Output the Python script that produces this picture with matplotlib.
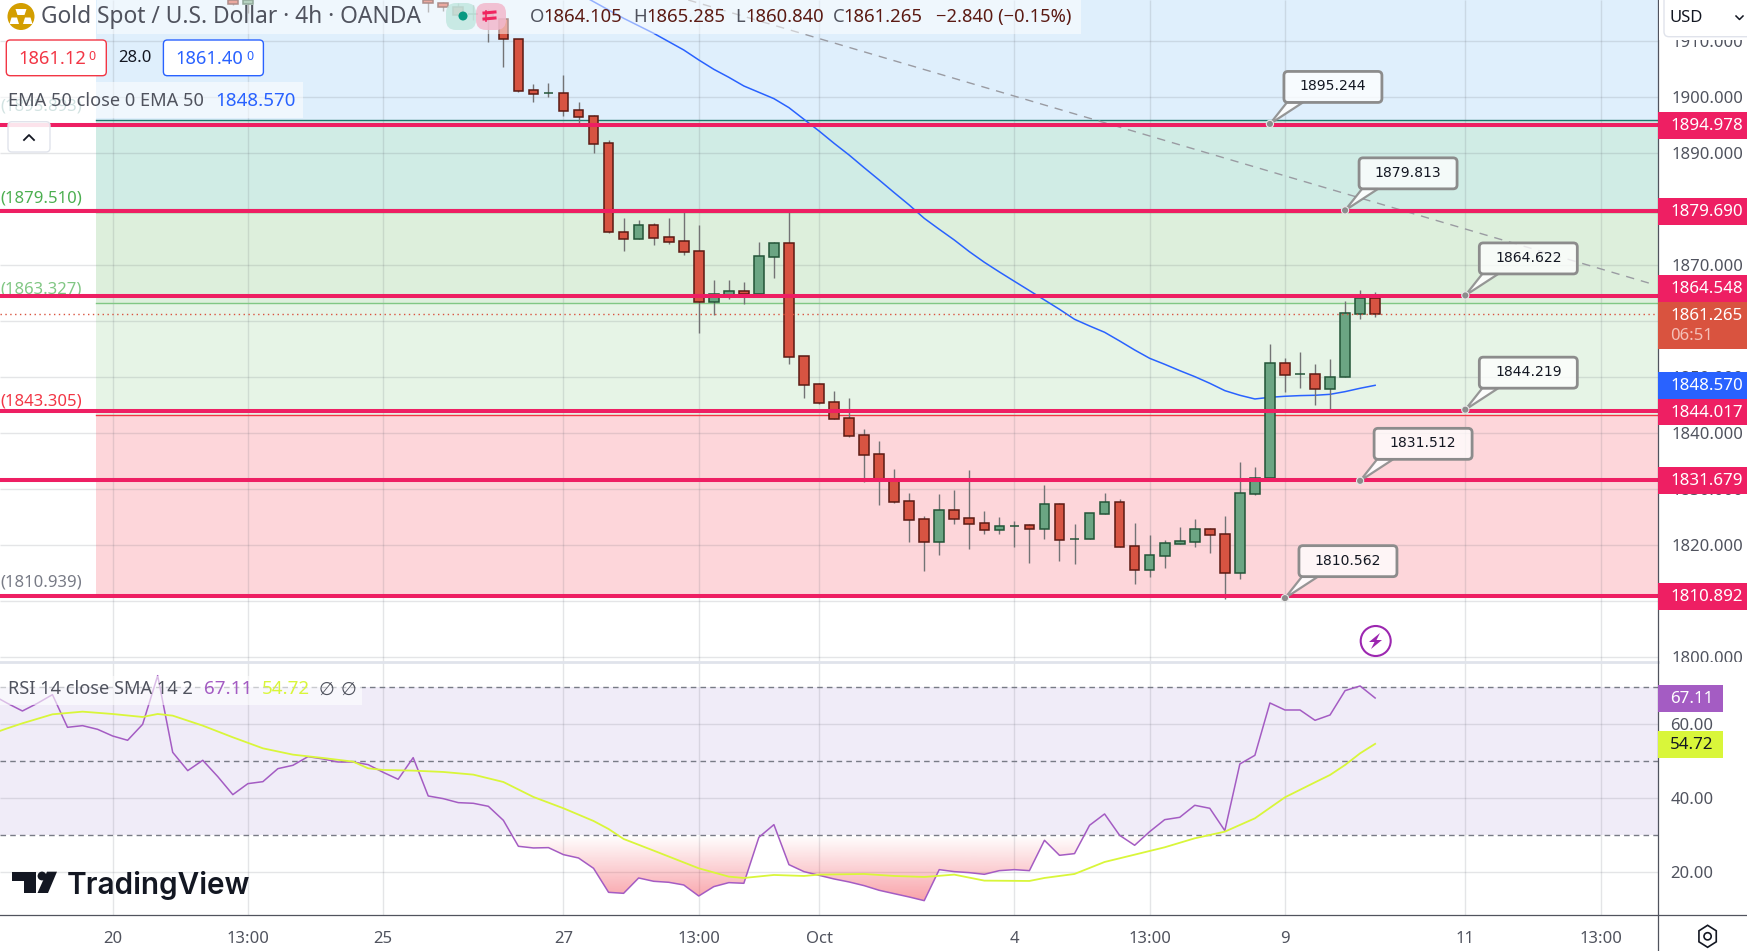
import numpy as np
import matplotlib
matplotlib.use("Agg")
import matplotlib.pyplot as plt
from matplotlib.patches import Rectangle, FancyBboxPatch, Polygon, Circle, PathPatch
from matplotlib.path import Path
from matplotlib.colors import to_rgb

W, H = 1747, 951
plt.rcParams['font.family'] = ['Noto Sans', 'DejaVu Sans']

# candles, bar 0 sits at x=458 in the picture
bar_idx = [-15, -14, -2, -1] + list(range(0, 62))
opens = [1917.4, 1916.7, 1917.4, 1916.79, 1916.07, 1914.8, 1915.1, 1913.93, 1910.36, 1901.25, 1900.71, 1900.71, 1897.68, 1896.61,
         1891.79, 1875.89, 1874.76, 1877.14, 1875.0, 1874.29, 1872.5, 1863.51, 1864.76, 1865.36, 1864.94, 1871.55, 1873.93, 1853.75,
         1848.75, 1845.54, 1842.68, 1839.64, 1836.25, 1831.61, 1827.86, 1824.64, 1820.65, 1826.25, 1824.82, 1823.93, 1822.8, 1823.51,
         1823.57, 1822.98, 1827.32, 1821.19, 1821.19, 1825.65, 1827.68, 1819.82, 1815.65, 1818.15, 1820.30, 1820.65, 1822.86, 1821.96,
         1815.12, 1829.23, 1831.96, 1852.5, 1850.54, 1850.54, 1847.98, 1850.0, 1861.37, 1864.105]
highs = [1917.5, 1917.5, 1917.5, 1917.0, 1916.8, 1916.5, 1915.7, 1914.0, 1910.4, 1902.38, 1902.5, 1903.99, 1899.17, 1896.85,
         1892.32, 1878.39, 1878.10, 1877.5, 1878.39, 1879.76, 1877.2, 1867.38, 1867.38, 1867.02, 1874.17, 1874.11, 1879.88, 1853.8,
         1848.93, 1847.56, 1846.31, 1840.71, 1838.63, 1833.63, 1829.35, 1825.24, 1829.17, 1829.88, 1833.45, 1826.13, 1825.06, 1824.35,
         1823.81, 1830.77, 1827.56, 1823.81, 1825.71, 1829.35, 1828.27, 1823.99, 1821.85, 1820.95, 1823.27, 1824.70, 1823.1, 1825.24,
         1834.88, 1833.99, 1855.95, 1853.39, 1854.52, 1852.38, 1853.27, 1863.63, 1865.6, 1865.285]
lows = [1916.5, 1915.0, 1915.24, 1915.48, 1914.6, 1913.8, 1909.94, 1905.48, 1900.95, 1899.23, 1900.0, 1896.73, 1895.36, 1890.12,
        1875.71, 1872.62, 1874.76, 1873.63, 1873.87, 1871.85, 1857.86, 1861.13, 1864.05, 1863.15, 1864.58, 1867.80, 1852.44, 1846.37,
        1845.30, 1842.5, 1839.40, 1831.37, 1827.2, 1827.62, 1820.60, 1815.42, 1818.27, 1823.81, 1819.35, 1822.02, 1822.02, 1819.70,
        1816.85, 1821.13, 1817.2, 1816.67, 1821.19, 1825.65, 1819.76, 1813.10, 1814.35, 1815.95, 1820.30, 1819.70, 1818.63, 1810.42,
        1813.99, 1828.99, 1831.96, 1847.44, 1848.15, 1845.06, 1844.29, 1850.0, 1860.42, 1860.84]
closes = [1916.67, 1917.4, 1916.79, 1916.07, 1914.76, 1914.8, 1913.93, 1910.36, 1901.19, 1900.65, 1900.71, 1897.62, 1896.55, 1891.73,
          1875.89, 1874.76, 1877.14, 1874.94, 1874.23, 1872.44, 1863.51, 1864.82, 1865.36, 1864.94, 1871.61, 1873.93, 1853.69, 1848.69,
          1845.48, 1842.62, 1839.58, 1836.19, 1831.55, 1827.80, 1824.58, 1820.65, 1826.25, 1824.76, 1823.87, 1822.80, 1823.39, 1823.51,
          1822.98, 1827.32, 1821.01, 1821.19, 1825.71, 1827.68, 1819.76, 1815.65, 1818.21, 1820.36, 1820.71, 1822.86, 1821.90, 1815.12,
          1829.29, 1831.96, 1852.5, 1850.48, 1850.54, 1847.98, 1850.0, 1861.43, 1864.1, 1861.265]

ema_idx = [8, 9, 11, 13, 15, 16, 17, 18, 19, 21, 22, 23, 24, 25, 26, 27, 28, 29, 30, 31, 32, 33, 34, 35, 36, 37, 38, 39, 40, 41,
           42, 43, 44, 45, 46, 47, 48, 49, 50, 51, 52, 53, 54, 55, 56, 57, 58, 59, 60, 61]
ema_vals = [1918.57, 1917.08, 1914.11, 1911.43, 1908.45, 1906.67, 1905.0, 1903.57, 1902.02, 1899.76, 1898.15, 1896.07, 1893.99,
            1891.79, 1889.70, 1887.44, 1885.24, 1882.98, 1880.77, 1878.39, 1876.43, 1874.52, 1872.44, 1870.54, 1868.81, 1867.14,
            1865.48, 1863.81, 1862.14, 1860.36, 1859.17, 1858.04, 1856.49, 1854.88, 1853.39, 1852.32, 1851.19, 1850.12, 1848.93,
            1847.62, 1846.79, 1846.13, 1846.43, 1846.61, 1846.73, 1846.79, 1846.96, 1847.44, 1848.04, 1848.57]

rsi_idx = list(range(-31, 62))
rsi_vals = [67.93, 65.68, 63.60, 65.68, 68.02, 59.19, 59.64, 58.65, 56.85, 55.68, 60.0, 73.15, 52.43, 47.48, 50.27, 45.86, 40.99, 43.96,
            44.50, 48.02, 48.92, 51.26, 50.63, 49.82, 49.82, 49.10, 47.03, 45.14, 50.99, 40.63, 39.91, 38.83, 38.65, 37.84, 34.05,
            27.03, 26.58, 26.67, 24.77, 23.87, 21.08, 14.59, 14.32, 18.47, 17.57, 17.30, 16.58, 13.60, 16.13, 17.21, 17.03, 29.46,
            32.88, 22.07, 20.18, 19.19, 18.20, 17.39, 16.40, 15.14, 14.23, 13.33, 12.34, 20.72, 20.18, 19.91, 19.46, 20.45, 20.72,
            20.45, 28.65, 24.59, 25.05, 32.70, 35.77, 30.0, 27.30, 30.99, 34.23, 34.86, 38.11, 37.30, 31.26, 49.28, 51.62, 65.77,
            63.87, 63.87, 61.08, 62.52, 69.10, 70.36, 67.11]

sma_idx = [-31, -30, -29, -27, -25, -23, -21, -20, -19, -17, -15, -13, -11, -9, -7, -6, -5, -3, -1, 1, 3, 5, 7, 9, 10, 11, 13, 16, 18, 19,
           21, 23, 24, 27, 29, 31, 33, 35, 38, 39, 41, 43, 45, 47, 49, 51, 53, 55, 57, 58, 59, 60, 61]
sma_vals = [57.48, 58.92, 60.27, 62.70, 63.42, 62.79, 61.98, 62.79, 62.34, 59.64, 56.49, 53.51, 51.80, 50.90, 49.91, 48.11, 47.66, 47.48,
            47.12, 46.40, 44.41, 40.36, 37.30, 33.87, 31.71, 29.01, 25.86, 21.08, 18.83, 18.47, 19.28, 19.01, 19.37, 19.55, 19.01,
            18.74, 19.37, 17.75, 17.66, 18.47, 19.55, 22.79, 24.77, 26.76, 29.19, 30.99, 34.59, 40.27, 44.32, 46.31, 49.01, 52.16,
            54.72]

# drawn levels and the fib levels
levels = [1894.978, 1879.690, 1864.548, 1844.017, 1831.679, 1810.892]
fib_levels = [1895.893, 1879.510, 1863.327, 1843.305, 1810.939]
fib_colors = ['#22766f', '#4caf50', '#81c784', '#f23645', '#787b86']
callout_vals = [1895.244, 1879.813, 1864.622, 1844.219, 1831.512, 1810.562]
callout_idx = [54, 59, 67, 67, 60, 55]
trend_idx = [15.3, 79.5]
trend_vals = [1917.375, 1866.6]

time_ticks = [-23, -14, -5, 7, 16, 24, 37, 46, 55, 67, 76]
time_labels = ['20', '13:00', '25', '27', '13:00', 'Oct', '4', '13:00', '9', '11', '13:00']
price_ticks = [1910, 1900, 1890, 1880, 1870, 1860, 1850, 1840, 1830, 1820, 1810, 1800]
covered_ticks = [1880, 1860, 1810]  # sit fully under a level label
rsi_ticks = [60, 40, 20]

last_price = 1861.265
ema_last = 1848.570

TXT = '#50535e'
PINK = '#ee1f63'
UP, DOWN = '#6ba583', '#d75442'
UP_E, DOWN_E = '#225437', '#5b1a13'

xlim = (-30.49, 79.82)

fig = plt.figure(figsize=(W / 100, H / 100), dpi=100, facecolor='white')
ax = fig.add_axes([0, 1 - 662 / H, 1658 / W, 662 / H], zorder=0)
ax_rsi = fig.add_axes([0, 1 - 915 / H, 1658 / W, (915 - 662) / H], zorder=2)
ov = fig.add_axes([0, 0, 1, 1], zorder=3)
ov.set_xlim(0, W)
ov.set_ylim(H, 0)
ov.axis('off')

# main pane
ax.set_xlim(*xlim)
ax.set_ylim(1799.16, 1917.375)
ax.set_xticks(time_ticks)
ax.tick_params(axis='x', length=0, labelbottom=False)
ax.yaxis.tick_right()
ax.set_yticks(price_ticks)
ax.set_yticklabels(['' if p in covered_ticks else '%.3f' % p for p in price_ticks])
ax.tick_params(axis='y', length=0, pad=9.5, labelsize=12, labelcolor=TXT)
for s in ax.spines.values():
    s.set_visible(False)

# fib zones
fib_x = [-24.08, xlim[1]]
zones = [(fib_levels[0], 1917.375, '#dfeffc'), (fib_levels[1], fib_levels[0], '#d0ece5'), (fib_levels[2], fib_levels[1], '#ddefdc'),
         (fib_levels[3], fib_levels[2], '#e6f4e6'), (fib_levels[4], fib_levels[3], '#fdd6da')]
for lo, hi, col in zones:
    ax.fill_between(fib_x, lo, hi, color=col, lw=0, zorder=1)
for lev, col in zip(fib_levels, fib_colors):
    ax.plot(fib_x, [lev, lev], color=col, lw=1, zorder=2.2)
    ax.annotate('(%.3f)' % lev, (xlim[0], lev), xytext=(0, 9.8), textcoords='offset points', color=col,
                alpha=0.45 if lev == fib_levels[0] else 1, fontsize=12, va='center', ha='left', zorder=2.2)

ax.hlines(price_ticks, *xlim, color='#5d606b', alpha=0.16, lw=1, zorder=2)
ax.vlines(time_ticks, 1799.16, 1917.375, color='#5d606b', alpha=0.16, lw=1, zorder=2)

ax.plot(trend_idx, trend_vals, color='#9a9ba2', lw=1, dashes=(6, 5), zorder=2.5)
ax.plot(ema_idx, ema_vals, color='#2962ff', lw=1.1, zorder=2.6)

# candles
for i, o, h, l, c in zip(bar_idx, opens, highs, lows, closes):
    up = c >= o
    ax.vlines(i, l, h, color='#737375', lw=1, zorder=3)
    ax.bar(i, abs(c - o), bottom=min(o, c), width=0.64, color=UP if up else DOWN,
           edgecolor=UP_E if up else DOWN_E, lw=1.1, zorder=3.1)

ax.hlines(last_price, *xlim, color='#d9533f', lw=1, linestyles=(0, (1, 2.5)), zorder=3.2)
ax.hlines(levels, *xlim, color=PINK, lw=2.9, zorder=4)

# white block so the price scale stops at the rsi pane
fig.add_artist(Rectangle((1658 / W, 0), 89 / W, 1 - 662 / H, transform=fig.transFigure, fc='white', ec='none', zorder=1))

# rsi pane
ax_rsi.set_xlim(*xlim)
ax_rsi.set_ylim(8.46, 76.84)
for s in ax_rsi.spines.values():
    s.set_visible(False)
ax_rsi.axhspan(30, 70, color='#f0ecf8', lw=0, zorder=1)
ax_rsi.hlines(rsi_ticks, *xlim, color='#5d606b', alpha=0.16, lw=1, zorder=2)
ax_rsi.vlines(time_ticks, 8.46, 76.84, color='#5d606b', alpha=0.16, lw=1, zorder=2)
ax_rsi.hlines([70, 50, 30], *xlim, color='#787b86', lw=1, linestyles=(0, (4, 3)), zorder=2.1)
ax_rsi.spines['top'].set_visible(True)
ax_rsi.spines['top'].set_color('#e0e3eb')
ax_rsi.spines['top'].set_linewidth(2)

rsi_arr = np.array(rsi_vals)
poly = ax_rsi.fill_between(rsi_idx, rsi_arr, 30, where=rsi_arr < 30, interpolate=True, color='none', lw=0)
grad = np.ones((256, 1, 4))
grad[:, 0, :3] = to_rgb('#f23645')
grad[:, 0, 3] = np.linspace(0.52, 0, 256)  # row 0 is the bottom of the gradient
im = ax_rsi.imshow(grad, extent=(xlim[0], xlim[1], 10, 30), aspect='auto', origin='lower', zorder=2.3)
im.set_clip_path(PathPatch(Path.make_compound_path(*poly.get_paths()), transform=ax_rsi.transData))
ax_rsi.set_xlim(*xlim)
ax_rsi.set_ylim(8.46, 76.84)

ax_rsi.plot(rsi_idx, rsi_vals, color='#a45cc3', lw=1.1, zorder=3)
ax_rsi.plot(sma_idx, sma_vals, color='#d9f63a', lw=1.3, zorder=3.1)

ax_rsi.yaxis.tick_right()
ax_rsi.set_yticks(rsi_ticks)
ax_rsi.set_yticklabels(['%.2f' % v for v in rsi_ticks])
ax_rsi.tick_params(axis='y', length=0, pad=9, labelsize=12, labelcolor=TXT)
ax_rsi.set_xticks(time_ticks)
ax_rsi.set_xticklabels(time_labels)
ax_rsi.tick_params(axis='x', length=0, pad=11.5, labelsize=12, labelcolor=TXT)

# axis borders
ov.plot([1658, 1658], [0, H], color=TXT, lw=0.9, zorder=1)
ov.plot([0, W], [915, 915], color=TXT, lw=0.9, zorder=1)


def label(y0, y1, text, bg, fg='white', x1=W, size=12.2, weight='bold'):
    ov.add_patch(Rectangle((1658, y0), x1 - 1658, y1 - y0, fc=bg, ec='none', zorder=5))
    ov.text(1670, (y0 + y1) / 2 + 0.8, text, color=fg, fontsize=size, fontweight=weight, va='center', ha='left', zorder=6)


def to_px(i, p):
    x, y = ax.transData.transform((i, p))
    return x, H - y


# level labels on the price scale (the picture shifts two of them to avoid overlap)
level_pos = [(112, 139), (198, 225), (275, 301.5), (399.3, 425.5), (466.7, 494), (583, 610)]
for lev, (y0, y1) in zip(levels, level_pos):
    label(y0, y1, '%.3f' % lev, PINK)
label(301.5, 349, '', '#d9533f')
ov.text(1670, 315.5, '%.3f' % last_price, color='white', fontsize=12.2, fontweight='bold', va='center', zorder=6)
ov.text(1670, 336, '06:51', color='#f4c0b8', fontsize=12, va='center', zorder=6)
label(371.7, 399.3, '%.3f' % ema_last, '#2962ff')
label(685, 711.7, '%.2f' % rsi_vals[-1], '#a45cc3', x1=1723)
label(731, 757.7, '%.2f' % sma_vals[-1], '#d9f63a', fg='#131722', x1=1723)

# callouts
for val, idx in zip(callout_vals, callout_idx):
    x, y = to_px(idx, val)
    bx, by = x + 14, y - 52.5
    ov.add_patch(Polygon([(x, y), (bx + 3, by + 31), (bx + 19, by + 31)], closed=True, fc='#ffffff', ec='#8c8c8c', lw=1.6, alpha=0.9, zorder=4))
    ov.add_patch(FancyBboxPatch((bx, by), 98, 31, boxstyle='round,pad=0,rounding_size=4', fc=(1, 1, 1, 0.78), ec='#8c8c8c', lw=2, zorder=4.1))
    ov.add_patch(Circle((x, y), 3.6, fc='#8c8c8c', ec='#e8e8e8', lw=0.8, zorder=4.2))
    ov.text(bx + 49, by + 15, '%.3f' % val, family='DejaVu Sans', fontsize=10.1, color='#131722', va='center', ha='center', zorder=4.3)

# header
ov.add_patch(Rectangle((97, 0), 984, 34, fc=(1, 1, 1, 0.5), ec='none', zorder=2))
ov.add_patch(Circle((21, 16.5), 13.5, fc='#d39e00', ec='none', zorder=3))
ov.add_patch(Polygon([(17.5, 15), (24.5, 15), (26.5, 9), (15.5, 9)][::-1], fc='white', ec='none', zorder=3.1))
ov.add_patch(Polygon([(9.5, 24), (19, 24), (17, 17.5), (11.5, 17.5)], fc='white', ec='none', zorder=3.1))
ov.add_patch(Polygon([(23, 24), (32.5, 24), (30.5, 17.5), (25, 17.5)], fc='white', ec='none', zorder=3.1))
ov.text(41, 17, 'Gold Spot / U.S. Dollar · 4h · OANDA', fontsize=16.4, color=TXT, va='center', zorder=3)

ov.add_patch(FancyBboxPatch((446, 3), 30, 27, boxstyle='round,pad=0,rounding_size=10', fc=(0.75, 0.9, 0.87, 0.8), ec='none', zorder=3))
ov.add_patch(FancyBboxPatch((476, 3), 30, 27, boxstyle='round,pad=0,rounding_size=10', fc=(0.95, 0.72, 0.8, 0.85), ec='none', zorder=3))
ov.add_patch(Circle((463, 16), 4.5, fc='#089981', ec='none', zorder=3.2))
ov.plot([484, 495], [13, 12], color='#f0245f', lw=2.2, zorder=3.2)
ov.plot([484, 495], [19, 18], color='#f0245f', lw=2.2, zorder=3.2)
ov.plot([486, 486], [11, 21], color='#f0245f', lw=1.2, zorder=3.2)

ohlc = [(530, 'O', '1864.105'), (633, 'H', '1865.285'), (735, 'L', '1860.840'), (833, 'C', '1861.265')]
for x, k, v in ohlc:
    ov.text(x, 17, k, fontsize=13.3, color=TXT, va='center', zorder=3)
    off = 13 if k in ('O', 'H') else 10.5
    ov.text(x + off, 17, v, fontsize=13.3, color=DOWN_E, va='center', zorder=3)
ov.text(936, 17, '−2.840 (−0.15%)', fontsize=13.2, color=DOWN_E, va='center', zorder=3)

# bid / ask
for x0, col, main in [(6.3, '#f23645', '1861.12'), (163.4, '#2962ff', '1861.40')]:
    ov.add_patch(FancyBboxPatch((x0, 40), 100, 35.7, boxstyle='round,pad=0,rounding_size=4', fc='white', ec=col, lw=1, zorder=3))
    ov.text(x0 + 12, 58.5, main, color=col, fontsize=13.2, va='center', zorder=3.1)
    ov.text(x0 + 82.5, 56, '0', color=col, fontsize=9, va='center', zorder=3.1)
ov.text(135, 58.5, '28.0', color='#131722', fontsize=12, va='center', ha='center', zorder=3)

# indicator legends
ov.add_patch(Rectangle((0, 82), 303, 36, fc=(1, 1, 1, 0.55), ec='none', zorder=2))
ov.text(8, 101.5, 'EMA 50 close 0 EMA 50', fontsize=13.1, color=TXT, va='center', zorder=3)
ov.text(215, 101.5, '%.3f' % ema_last, fontsize=13.5, color='#2962ff', va='center', zorder=3)
ov.add_patch(FancyBboxPatch((8, 121.7), 42, 30.3, boxstyle='round,pad=0,rounding_size=4', fc=(1, 1, 1, 0.88), ec='#e0e3eb', lw=1, zorder=3))
ov.plot([24, 29, 34], [140, 135, 140], color='#131722', lw=1.3, zorder=3.1)

ov.add_patch(Rectangle((0, 676), 362, 29, fc=(1, 1, 1, 0.6), ec='none', zorder=2))
ov.text(8, 689.5, 'RSI 14 close SMA 14 2', fontsize=13.1, color=TXT, va='center', zorder=3)
ov.text(204, 689.5, '%.2f' % rsi_vals[-1], fontsize=13.5, color='#a45cc3', va='center', zorder=3)
ov.text(262, 689.5, '%.2f' % sma_vals[-1], fontsize=13.5, color='#d9f63a', va='center', zorder=3)
ov.text(319, 689.5, '∅', fontsize=13, color=TXT, va='center', family='DejaVu Sans', zorder=3)
ov.text(341, 689.5, '∅', fontsize=13, color=TXT, va='center', family='DejaVu Sans', zorder=3)

# TradingView mark
DARK = '#131722'
ov.add_patch(Polygon([(12, 871.7), (36.5, 871.7), (36.5, 893), (24, 893), (24, 881), (12, 881)], fc=DARK, ec='none', zorder=3))
ov.add_patch(Circle((42, 876), 4.4, fc=DARK, ec='none', zorder=3))
ov.add_patch(Polygon([(47, 871.7), (57, 871.7), (48, 893), (37.5, 893)], fc=DARK, ec='none', zorder=3))
ov.text(67, 886, 'TradingView', fontsize=21.4, family='Inter', fontweight='semibold', color=DARK, va='center', zorder=3)

# flash icon
ov.add_patch(Circle((1375.7, 641), 15, fc='white', ec='#9c27b0', lw=1.5, zorder=3))
ov.add_patch(Polygon([(1380, 633), (1369, 642), (1374.5, 642), (1371, 649), (1382, 640), (1376.5, 640)], fc='#9c27b0', ec='none', zorder=3.1))

# settings icon
a = np.deg2rad([90, 150, 210, 270, 330, 30])
ov.add_patch(Polygon(np.c_[1707.6 + 10 * np.cos(a), 936.3 + 11 * np.sin(a)], fill=False, ec=DARK, lw=1.2, zorder=3))
ov.add_patch(Circle((1707.6, 936.3), 3.6, fill=False, ec=DARK, lw=1.2, zorder=3))

# currency button, the white strip cuts the 1910 tick like the picture does
ov.add_patch(Rectangle((1659, 0), W - 1659, 39.5, fc='white', ec='none', zorder=2))
ov.add_patch(FancyBboxPatch((1664, -6), 100, 42.7, boxstyle='round,pad=0,rounding_size=5', fc='white', ec='#e0e3eb', lw=1, zorder=3))
ov.text(1670, 17.5, 'USD', fontsize=12, color=DARK, va='center', zorder=3.1)
ov.plot([1736, 1739.5, 1743], [16, 19.5, 16], color=DARK, lw=1.1, zorder=3.1)

fig.savefig('out.png', dpi=100)
